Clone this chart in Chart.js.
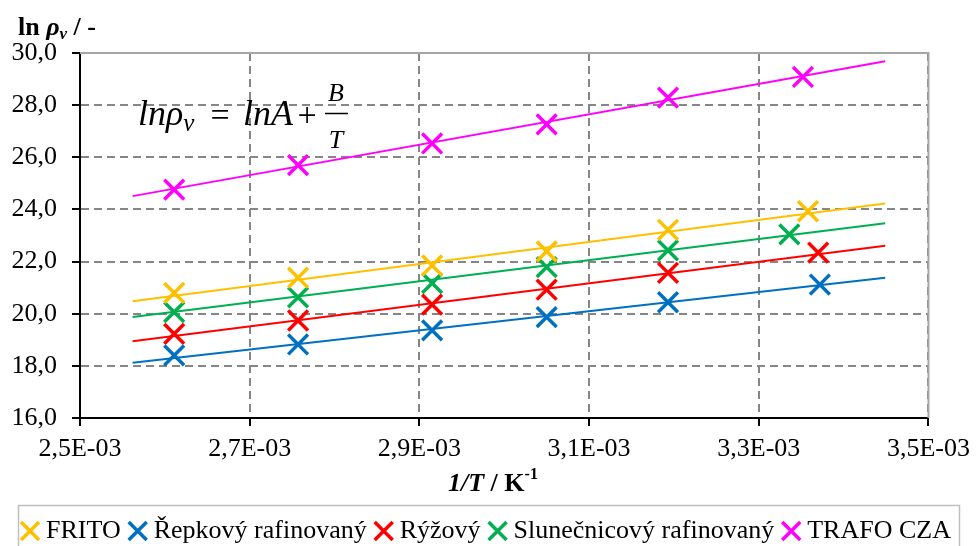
<!DOCTYPE html>
<html>
<head>
<meta charset="utf-8">
<script src="https://cdn.jsdelivr.net/npm/chart.js@4.4.1/dist/chart.umd.min.js"></script>
<style>
  html, body { margin: 0; padding: 0; background: #fff; }
  #wrap { width: 978px; height: 546px; }
</style>
</head>
<body>
<div id="wrap"><canvas id="myChart" width="978" height="546"></canvas></div>
<script>
// series
const seriesNames = ['FRITO', 'Řepkový rafinovaný', 'Rýžový', 'Slunečnicový rafinovaný', 'TRAFO CZA'];
const seriesColors = ['#FFC000', '#0070C0', '#FF0000', '#00B050', '#FF00FF'];

// 1/T values (K^-1), last point differs per oil
const invT = [2.611e-3, 2.757e-3, 2.915e-3, 3.050e-3, 3.193e-3];
const lastInvT = [3.358e-3, 3.372e-3, 3.370e-3, 3.336e-3, 3.352e-3];

// ln rho_v
const frito = [20.80, 21.38, 21.85, 22.39, 23.22, 23.93];
const repkovy = [18.40, 18.82, 19.36, 19.87, 20.44, 21.12];
const ryzovy = [19.23, 19.74, 20.35, 20.92, 21.57, 22.34];
const slunecnicovy = [20.06, 20.63, 21.17, 21.79, 22.43, 23.04];
const trafo = [24.76, 25.70, 26.53, 27.26, 28.29, 29.08];

// trendline ends
const trendInvT = [2.562e-3, 3.449e-3];
const fritoTrend = [20.48, 24.23];
const repkovyTrend = [18.12, 21.38];
const ryzovyTrend = [18.94, 22.61];
const slunecnicovyTrend = [19.87, 23.47];
const trafoTrend = [24.51, 29.68];

const allValues = [frito, repkovy, ryzovy, slunecnicovy, trafo];
const allTrends = [fritoTrend, repkovyTrend, ryzovyTrend, slunecnicovyTrend, trafoTrend];

const serif = "'Liberation Serif', 'Times New Roman', serif";
Chart.defaults.font.family = serif;
Chart.defaults.color = '#000';

const toPoints = (vals, i) => vals.map((v, j) => ({ x: j < invT.length ? invT[j] : lastInvT[i], y: v }));

const scatterSets = allValues.map((vals, i) => ({
  label: seriesNames[i],
  type: 'scatter',
  data: toPoints(vals, i),
  pointStyle: 'crossRot',
  pointRadius: 14,
  pointHoverRadius: 14,
  borderColor: seriesColors[i],
  backgroundColor: seriesColors[i],
  pointBorderWidth: 3.5,
  borderWidth: 3,
  showLine: false
}));

const trendSets = allTrends.map((t, i) => ({
  label: seriesNames[i] + ' trend',
  type: 'line',
  data: t.map((v, j) => ({ x: trendInvT[j], y: v })),
  borderColor: seriesColors[i],
  borderWidth: 2,
  pointRadius: 0,
  fill: false,
  tension: 0
}));

// draws a row of differently styled text pieces
const drawRuns = (ctx, x, y, parts) => {
  parts.forEach(p => {
    ctx.font = p.font;
    ctx.fillText(p.t, x, y + (p.dy || 0));
    x += ctx.measureText(p.t).width + (p.gap || 0);
  });
};

const extras = {
  id: 'extras',
  afterDraw(chart) {
    const ctx = chart.ctx;
    const a = chart.chartArea;
    ctx.save();
    // top and right frame of the plot area
    ctx.strokeStyle = '#a6a6a6';
    ctx.lineWidth = 2;
    ctx.beginPath();
    ctx.moveTo(a.left, a.top);
    ctx.lineTo(a.right, a.top);
    ctx.lineTo(a.right, a.bottom);
    ctx.stroke();

    // legend frame
    ctx.strokeStyle = '#bfbfbf';
    ctx.lineWidth = 1.5;
    ctx.strokeRect(18.5, 505.5, 941, 50);

    ctx.fillStyle = '#000';
    ctx.textAlign = 'left';
    ctx.textBaseline = 'alphabetic';

    // y axis title
    drawRuns(ctx, 18, 35, [
      { t: 'ln ', font: 'bold 26px ' + serif },
      { t: 'ρ', font: 'bold italic 26px ' + serif },
      { t: 'v', font: 'bold italic 17px ' + serif, dy: 4 },
      { t: ' / -', font: 'bold 26px ' + serif }
    ]);

    // x axis title
    drawRuns(ctx, 448, 491, [
      { t: '1/T', font: 'bold italic 26px ' + serif },
      { t: ' / K', font: 'bold 26px ' + serif },
      { t: '-1', font: 'bold 16px ' + serif, dy: -12 }
    ]);

    // equation
    drawRuns(ctx, 138, 125, [
      { t: 'lnρ', font: 'italic 36px ' + serif },
      { t: 'v', font: 'italic 25px ' + serif, dy: 6 }
    ]);
    ctx.textAlign = 'center';
    ctx.font = '34px ' + serif;
    ctx.fillText('=', 220, 126);
    ctx.fillText('+', 307, 126);
    ctx.textAlign = 'left';
    ctx.font = 'italic 36px ' + serif;
    ctx.fillText('lnA', 243, 125);
    ctx.textAlign = 'center';
    ctx.font = 'italic 26px ' + serif;
    ctx.fillText('B', 336, 101);
    ctx.fillText('T', 336, 148);
    ctx.lineWidth = 1.5;
    ctx.strokeStyle = '#000';
    ctx.beginPath();
    ctx.moveTo(325, 113.5);
    ctx.lineTo(348, 113.5);
    ctx.stroke();
    ctx.restore();
  }
};

const fmtX = v => v.toExponential(1).replace('.', ',').replace(/e([+-])(\d)$/, 'E$10$2');
const fmtY = v => v.toFixed(1).replace('.', ',');

const gridStyle = {
  color: '#868686',
  lineWidth: 2,
  tickLength: 8,
  tickColor: '#000',
  tickWidth: 2,
  tickBorderDash: []
};

new Chart(document.getElementById('myChart').getContext('2d'), {
  data: { datasets: [...scatterSets, ...trendSets] },
  options: {
    responsive: false,
    devicePixelRatio: 1,
    animation: false,
    events: [],
    layout: { padding: { left: 0, top: 53, right: 0, bottom: 0 } },
    scales: {
      x: {
        type: 'linear',
        position: 'bottom',
        min: 0.0025,
        max: 0.0035,
        ticks: { stepSize: 0.0002, callback: fmtX, font: { size: 26 }, padding: 8, maxRotation: 0 },
        grid: gridStyle,
        border: { color: '#000', width: 2, dash: [8, 5] },
        afterFit: s => { s.height = 86; }
      },
      y: {
        type: 'linear',
        position: 'left',
        min: 16,
        max: 30,
        ticks: { stepSize: 2, callback: fmtY, font: { size: 26 }, padding: 15 },
        grid: gridStyle,
        border: { color: '#000', width: 2, dash: [8, 5] },
        afterFit: s => { s.width = 80; }
      },
      yR: {
        type: 'linear',
        position: 'right',
        display: true,
        grid: { display: false, drawTicks: false },
        border: { display: false },
        ticks: { display: false },
        afterFit: s => { s.width = 48; }
      }
    },
    plugins: {
      tooltip: { enabled: false },
      title: { display: false },
      legend: {
        position: 'bottom',
        maxHeight: 42,
        labels: {
          usePointStyle: true,
          boxWidth: 6,
          boxHeight: 18,
          padding: 14,
          color: '#000',
          font: { size: 26 },
          filter: item => item.datasetIndex < seriesNames.length
        }
      }
    }
  },
  plugins: [extras]
});
</script>
</body>
</html>
